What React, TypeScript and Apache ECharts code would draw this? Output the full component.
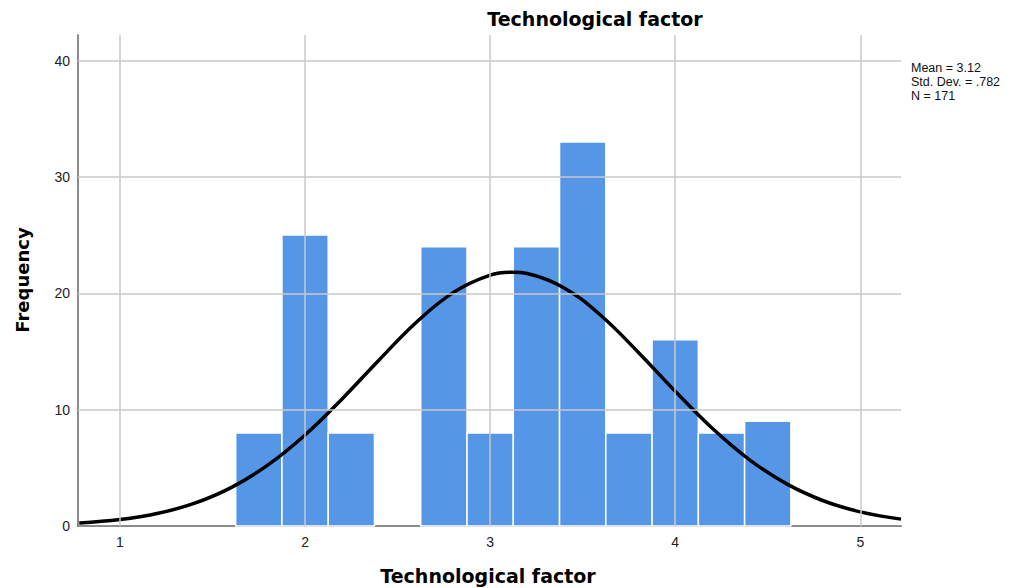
import React, { useEffect, useRef } from "react";
import * as echarts from "echarts";

// Histogram bins (bin centre, frequency), bin width 0.25
const binCenters = [1.75, 2.0, 2.25, 2.5, 2.75, 3.0, 3.25, 3.5, 3.75, 4.0, 4.25, 4.5];
const binCounts = [8, 25, 8, 0, 24, 8, 24, 33, 8, 16, 8, 9];
const binWidth = 0.25;

// Fitted normal curve
const curveX = [0.78, 1.0, 1.2, 1.4, 1.6, 1.8, 2.0, 2.2, 2.4, 2.6, 2.8, 3.0, 3.12, 3.2, 3.4, 3.6, 3.8, 4.0, 4.2, 4.4, 4.6, 4.8, 5.0, 5.22];
const curveY = [0.25, 0.55, 1.07, 1.94, 3.3, 5.25, 7.82, 10.92, 14.27, 17.49, 20.06, 21.56, 21.81, 21.7, 20.46, 18.07, 14.94, 11.58, 8.4, 5.71, 3.64, 2.17, 1.21, 0.59];

const xGridValues = [1, 2, 3, 4, 5];
const yGridValues = [10, 20, 30, 40];
const statsLines = ["Mean = 3.12", "Std. Dev. = .782", "N = 171"];
const titleText = "Technological factor";
const xAxisName = "Technological factor";
const yAxisName = "Frequency";

const FONT = "'Liberation Sans', Arial, sans-serif";
const BOLDFONT = "'DejaVu Sans', 'Liberation Sans', sans-serif";

export default function App() {
  const ref = useRef<HTMLDivElement>(null);
  useEffect(() => {
    if (!ref.current) return;
    const chart = echarts.init(ref.current, null, { renderer: "svg" });
    const bars = binCenters.map((c, i) => [c, binCounts[i]]);
    const curve = curveX.map((x, i) => [x, curveY[i]]);
    chart.setOption({
      animation: false,
      backgroundColor: "#ffffff",
      textStyle: { fontFamily: FONT },
      grid: { left: 78, top: 35, width: 823, height: 491, containLabel: false },
      xAxis: {
        type: "value",
        min: 0.773,
        max: 5.22,
        axisLine: { show: true, lineStyle: { color: "#8c8c8c", width: 2 } },
        axisTick: { show: false },
        splitLine: { show: false },
        axisLabel: {
          margin: 9,
          color: "#222",
          fontSize: 14,
          fontFamily: FONT,
          formatter: (v: number) => (Math.abs(v - Math.round(v)) < 1e-6 ? String(Math.round(v)) : ""),
        },
      },
      yAxis: {
        type: "value",
        min: 0,
        max: 42.2,
        interval: 10,
        axisLine: { show: true, lineStyle: { color: "#8c8c8c", width: 2 } },
        axisTick: { show: false },
        splitLine: { show: false },
        axisLabel: {
          margin: 8,
          color: "#222",
          fontSize: 14,
          fontFamily: FONT,
          formatter: (v: number) => (Math.abs(v % 10) < 1e-6 ? String(v) : ""),
        },
      },
      series: [
        {
          type: "line",
          data: [],
          z: 0,
          silent: true,
          markLine: {
            silent: true,
            symbol: "none",
            label: { show: false },
            lineStyle: { color: "#c8c8c8", type: "solid", width: 1.5 },
            data: [
              ...xGridValues.map((v) => ({ xAxis: v })),
              ...yGridValues.map((v) => ({ yAxis: v })),
            ],
          },
        },
        {
          type: "custom",
          z: 2,
          data: bars,
          renderItem: (params: any, api: any) => {
            const c = api.value(0);
            const v = api.value(1);
            if (!v) return null;
            const p0 = api.coord([c - binWidth / 2, v]);
            const p1 = api.coord([c + binWidth / 2, 0]);
            return {
              type: "rect",
              shape: { x: p0[0], y: p0[1], width: p1[0] - p0[0], height: p1[1] - p0[1] },
              style: { fill: "#5596e6", stroke: "#ffffff", lineWidth: 1.5 },
            };
          },
        },
        {
          type: "line",
          z: 3,
          data: curve,
          smooth: 0.4,
          showSymbol: false,
          symbol: "none",
          lineStyle: { color: "#000000", width: 3.5 },
        },
      ],
      graphic: [
        {
          type: "text",
          x: 595,
          y: 19,
          style: { text: titleText, font: `bold 19px ${BOLDFONT}`, fill: "#000", align: "center", verticalAlign: "middle" },
        },
        {
          type: "text",
          x: 488,
          y: 576,
          style: { text: xAxisName, font: `bold 19px ${BOLDFONT}`, fill: "#000", align: "center", verticalAlign: "middle" },
        },
        {
          type: "text",
          x: 22,
          y: 280,
          rotation: Math.PI / 2,
          style: { text: yAxisName, font: `bold 18px ${BOLDFONT}`, fill: "#000", align: "center", verticalAlign: "middle" },
        },
        {
          type: "text",
          x: 911,
          y: 61,
          style: { text: statsLines.join("\n"), font: `12.5px ${FONT}`, lineHeight: 14, fill: "#111" },
        },
      ],
    });
    return () => chart.dispose();
  }, []);
  return <div ref={ref} style={{ width: 1026, height: 588, position: "absolute", left: 0, top: 0 }} />;
}
